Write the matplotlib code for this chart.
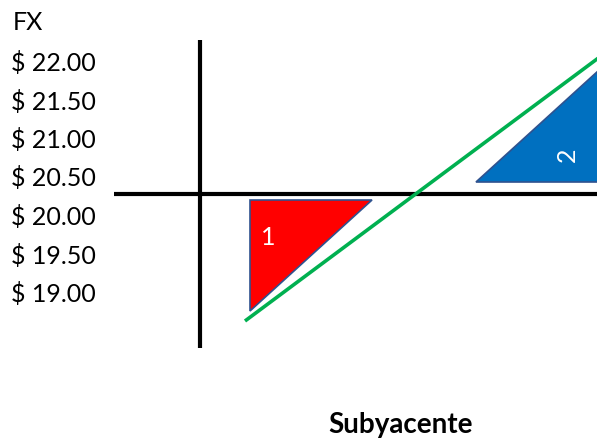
import matplotlib.pyplot as plt
from matplotlib.patches import Polygon

plt.rcParams['font.family'] = ['Lato', 'DejaVu Sans']

# y-axis labels (text column on the left), top to bottom
fx_labels = ["$ 22.00", "$ 21.50", "$ 21.00", "$ 20.50", "$ 20.00", "$ 19.50", "$ 19.00"]
label_y = [63, 102, 140, 178, 217, 256, 294]

# schematic in canvas units (x right, y down)
vaxis_x = [200, 200]
vaxis_y = [41, 349]
haxis_x = [114, 597]
haxis_y = [195, 195]

green_x = [245, 640]
green_y = [322, 28]

red_tri = [(250, 201), (372, 201), (250, 312)]
blue_tri = [(476, 183), (620, 52), (620, 183)]

fig = plt.figure(figsize=(5.97, 4.39), dpi=100)
ax = fig.add_axes([0, 0, 1, 1])
ax.set_xlim(0, 597)
ax.set_ylim(439, 0)
ax.axis("off")

ax.add_patch(Polygon(red_tri, closed=True, facecolor="#FF0000",
                     edgecolor="#2F528F", lw=1.2, zorder=2))
ax.add_patch(Polygon(blue_tri, closed=True, facecolor="#0070C0",
                     edgecolor="#2F528F", lw=1.2, zorder=2))

ax.plot(vaxis_x, vaxis_y, color="black", lw=3, solid_capstyle="butt", zorder=3)
ax.plot(haxis_x, haxis_y, color="black", lw=3, solid_capstyle="butt", zorder=3)
ax.plot(green_x, green_y, color="#00B050", lw=2.6, solid_capstyle="butt", zorder=4)

ax.text(268, 238, "1", color="white", fontsize=18, ha="center", va="center", zorder=5)
ax.text(567, 155, "2", color="white", fontsize=18, ha="center", va="center",
        rotation=90, zorder=5)

ax.text(13, 23, "FX", fontsize=18, ha="left", va="center")
for lab, y in zip(fx_labels, label_y):
    ax.text(11, y, lab, fontsize=18, ha="left", va="center")

ax.text(401, 425, "Subyacente", fontsize=20, fontweight="bold", ha="center", va="center")

fig.savefig("out.png", dpi=100)
